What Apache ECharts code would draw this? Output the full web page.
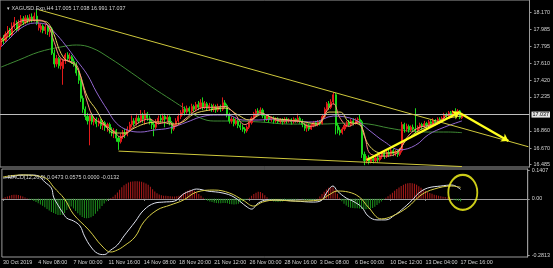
<!DOCTYPE html>
<html><head><meta charset="utf-8">
<script src="https://cdn.jsdelivr.net/npm/echarts@6/dist/echarts.min.js"></script>
<style>html,body{margin:0;padding:0;background:#000;}#c{width:553px;height:268px;}</style>
</head><body><div id="c"></div>
<script>
// ---- data ----
const tickLabels = ['30 Oct 2019','4 Nov 08:00','7 Nov 00:00','11 Nov 16:00','14 Nov 08:00','18 Nov 20:00','21 Nov 12:00','26 Nov 00:00','28 Nov 16:00','3 Dec 08:00','6 Dec 00:00','10 Dec 12:00','13 Dec 04:00','17 Dec 16:00'];
const priceTicks = [18.170, 17.985, 17.795, 17.610, 17.420, 17.235, 16.860, 16.670, 16.485];
const macdTicks = [0.1407, 0, -0.2813];
const lastPrice = 17.037;
const headerText = 'XAGUSD.Exp,H4 17.005 17.038 16.991 17.037';
const macdText = 'MACD(12,26,9) 0.0473 0.0575 0.0000 -0.0132';

// [open, close, low, high]
const candles = [
[17.80,17.88,17.76,17.90],[17.88,17.86,17.82,17.92],[17.86,17.93,17.84,17.96],[17.93,17.97,17.90,18.02],[17.97,17.92,17.89,18.00],
[17.92,18.02,17.90,18.06],[18.02,18.06,17.99,18.12],[18.06,17.98,17.95,18.08],[17.98,18.05,17.96,18.09],[18.05,18.10,18.02,18.14],
[18.10,18.06,18.03,18.13],[18.06,18.11,18.04,18.14],[18.11,18.08,18.05,18.14],[18.08,18.12,18.06,18.15],[18.12,18.09,18.06,18.16],
[18.09,18.13,18.07,18.17],[18.13,18.05,18.03,18.20],[18.00,18.04,17.97,18.07],[17.98,18.02,17.95,18.05],[18.02,17.97,17.94,18.04],
[17.97,18.01,17.93,18.04],[18.01,17.96,17.92,18.03],[17.96,17.99,17.90,18.02],[17.99,17.72,17.70,18.01],[17.72,17.60,17.56,17.76],
[17.60,17.66,17.57,17.70],[17.66,17.58,17.55,17.68],[17.58,17.62,17.54,17.66],[17.55,17.64,17.37,17.66],[17.64,17.70,17.60,17.72],
[17.70,17.66,17.63,17.73],[17.66,17.68,17.62,17.72],[17.68,17.63,17.60,17.70],[17.63,17.60,17.57,17.66],[17.60,17.50,17.47,17.62],
[17.50,17.42,17.38,17.52],[17.42,17.22,17.18,17.44],[17.22,17.10,17.06,17.25],[17.10,17.02,16.98,17.13],[17.02,16.97,16.93,17.06],
[16.97,17.03,16.70,17.05],[17.03,16.96,16.93,17.06],[16.96,16.99,16.92,17.02],[16.99,16.94,16.90,17.01],[16.94,16.97,16.91,17.00],
[16.97,16.92,16.88,16.99],[16.92,16.95,16.87,16.98],[16.95,16.90,16.86,16.97],[16.90,16.93,16.85,16.95],[16.93,16.87,16.83,16.95],
[16.87,16.84,16.80,16.90],[16.84,16.86,16.78,16.89],[16.86,16.78,16.74,16.88],[16.78,16.74,16.65,16.80],[16.74,16.80,16.72,16.83],
[16.80,16.84,16.77,16.87],[16.84,16.82,16.78,16.88],[16.82,16.88,16.80,16.91],[16.88,16.93,16.85,16.96],[16.93,16.97,16.90,17.03],
[16.97,16.94,16.91,17.00],[16.94,17.00,16.92,17.05],[17.00,16.97,16.94,17.03],[16.97,17.03,16.95,17.09],[17.03,16.99,16.95,17.06],
[16.99,17.05,16.93,17.09],[17.05,17.00,16.97,17.07],[17.00,16.96,16.93,17.03],[16.96,16.93,16.88,16.99],[16.93,16.90,16.80,16.96],
[16.90,16.96,16.88,16.99],[16.96,17.00,16.93,17.03],[17.00,16.98,16.95,17.04],[16.98,17.02,16.96,17.05],[17.02,16.99,16.90,17.05],
[16.99,17.01,16.96,17.04],[17.01,16.95,16.92,17.03],[16.95,16.88,16.83,16.97],[16.88,16.93,16.86,16.95],[16.93,16.97,16.91,17.00],
[16.97,17.02,16.95,17.05],[17.02,17.06,16.99,17.09],[17.06,17.10,17.03,17.17],[17.10,17.07,17.03,17.13],[17.07,17.11,17.05,17.14],
[17.11,17.08,17.04,17.13],[17.08,17.13,17.06,17.16],[17.13,17.10,17.07,17.15],[17.10,17.15,17.08,17.18],[17.15,17.12,17.09,17.19],
[17.12,17.17,17.10,17.21],[17.17,17.12,17.09,17.23],[17.12,17.16,17.10,17.19],[17.16,17.11,17.08,17.18],[17.11,17.14,17.08,17.17],
[17.14,17.10,17.07,17.16],[17.10,17.13,17.07,17.16],[17.13,17.09,17.06,17.15],[17.09,17.13,17.07,17.16],[17.13,17.10,17.07,17.15],
[17.10,17.17,17.08,17.23],[17.17,17.14,17.11,17.20],[17.14,17.04,17.01,17.16],[17.04,16.97,16.94,17.06],[16.97,16.99,16.94,17.02],
[16.99,16.94,16.91,17.01],[16.94,16.97,16.92,17.00],[16.97,16.92,16.89,16.99],[16.92,16.90,16.87,16.95],[16.90,16.88,16.85,16.93],
[16.88,16.86,16.83,16.90],[16.86,16.90,16.84,16.92],[16.90,16.95,16.88,16.97],[16.95,17.00,16.93,17.02],[17.00,17.05,16.98,17.07],
[17.05,17.08,17.02,17.10],[17.08,17.06,17.03,17.11],[17.06,17.09,17.04,17.12],[17.09,17.03,17.00,17.11],[17.03,16.99,16.96,17.05],
[16.99,17.02,16.97,17.04],[17.02,16.98,16.95,17.04],[16.98,17.00,16.96,17.02],[17.00,16.97,16.94,17.02],[16.97,16.99,16.95,17.01],
[16.99,16.96,16.94,17.01],[16.96,16.98,16.94,17.00],[16.98,16.96,16.93,17.00],[16.96,16.99,16.94,17.01],[16.99,16.97,16.94,17.01],
[16.97,16.98,16.95,17.00],[16.98,16.96,16.93,17.00],[16.96,16.99,16.94,17.01],[16.99,16.97,16.95,17.00],[16.97,17.00,16.95,17.05],
[17.00,16.97,16.94,17.02],[16.97,16.93,16.90,16.99],[16.93,16.89,16.86,16.95],[16.89,16.92,16.85,16.94],[16.92,16.88,16.86,16.94],
[16.88,16.92,16.87,16.94],[16.92,16.95,16.90,16.97],[16.95,16.93,16.91,16.97],[16.93,16.96,16.91,16.98],[16.96,16.94,16.92,16.98],
[16.94,17.02,16.93,17.04],[17.02,17.10,17.00,17.12],[17.10,17.16,17.07,17.18],[17.16,17.12,17.09,17.19],[17.12,17.18,17.10,17.21],
[17.18,17.26,17.15,17.29],[17.26,16.92,16.82,17.28],[16.92,16.87,16.83,16.95],[16.87,16.84,16.81,16.90],[16.84,16.88,16.82,16.90],
[16.88,16.92,16.86,16.94],[16.92,16.95,16.90,16.97],[16.95,16.93,16.91,16.98],[16.93,16.97,16.91,16.99],[16.97,16.95,16.92,17.00],
[16.95,16.98,16.93,17.00],[16.98,16.99,16.93,17.01],[16.99,16.96,16.93,17.04],[16.96,16.60,16.56,16.98],[16.60,16.53,16.48,16.63],
[16.53,16.56,16.50,16.58],[16.56,16.52,16.49,16.59],[16.52,16.55,16.50,16.57],[16.55,16.53,16.50,16.58],[16.53,16.56,16.51,16.58],
[16.56,16.54,16.51,16.58],[16.54,16.58,16.52,16.60],[16.58,16.61,16.55,16.63],[16.61,16.58,16.55,16.64],[16.58,16.62,16.56,16.64],
[16.62,16.60,16.57,16.65],[16.60,16.64,16.58,16.66],[16.64,16.61,16.58,16.66],[16.61,16.63,16.58,16.65],[16.63,16.60,16.57,16.65],
[16.60,16.64,16.58,16.67],[16.64,16.93,16.62,16.96],[16.93,16.88,16.84,16.95],[16.88,16.91,16.85,16.94],[16.91,16.87,16.84,16.93],
[16.87,16.90,16.85,16.92],[16.90,16.88,16.85,16.93],[16.88,16.86,16.83,17.11],[16.86,16.90,16.84,16.92],[16.90,16.93,16.88,16.95],
[16.93,16.91,16.88,16.95],[16.91,16.94,16.89,16.97],[16.94,16.92,16.89,16.96],[16.92,16.96,16.90,16.98],[16.96,16.94,16.91,16.98],
[16.94,16.97,16.92,17.00],[16.97,16.95,16.92,16.99],[16.95,16.99,16.93,17.01],[16.99,16.97,16.94,17.01],[16.97,17.00,16.95,17.02],
[17.00,17.04,16.98,17.06],[17.04,17.02,16.99,17.06],[17.02,17.06,17.00,17.08],[17.06,17.04,17.01,17.08],[17.04,17.07,17.02,17.09],
[17.07,17.05,17.02,17.11],[17.05,17.08,17.03,17.10],[17.08,17.005,16.99,17.09],[17.005,17.037,16.991,17.038]
];

// moving averages: [bar index, price]
const maFast = [[0,17.865],[4,17.976],[8,18.064],[13,18.087],[17,18.087],[21,18.03],[24,17.84],[27,17.66],[31,17.63],[34,17.59],[36,17.45],[39,17.17],[42,17.00],[47,16.92],[51,16.85],[54,16.79],[58,16.86],[62,16.95],[67,16.99],[71,16.94],[76,16.96],[78,16.91],[83,16.99],[87,17.07],[92,17.12],[96,17.12],[101,17.13],[105,17.06],[110,16.93],[114,17.00],[117,17.06],[121,17.02],[126,16.97],[130,16.97],[134,16.97],[139,16.91],[143,16.93],[147,17.08],[150,17.16],[153,17.00],[157,16.91],[161,16.96],[164,16.80],[167,16.60],[173,16.58],[179,16.62],[183,16.78],[188,16.89],[193,16.92],[198,16.97],[203,17.04],[208,17.04]];
const maMid = [[0,17.843],[4,17.92],[8,18.01],[14,18.08],[20,18.07],[23,17.976],[28,17.677],[34,17.566],[39,17.234],[43,17.09],[47,16.92],[51,16.836],[56,16.836],[60,16.89],[66,16.946],[72,16.958],[77,16.935],[82,16.958],[87,17.046],[94,17.09],[101,17.112],[107,17.035],[112,16.98],[118,17.046],[123,17.00],[130,16.98],[137,16.958],[143,16.935],[148,17.068],[153,17.068],[157,16.958],[162,16.925],[166,16.70],[172,16.614],[178,16.625],[183,16.758],[189,16.869],[196,16.935],[202,17.00],[208,17.024]];
const maSlow = [[0,17.788],[4,17.887],[9,17.998],[15,18.053],[20,18.042],[24,17.954],[29,17.81],[34,17.644],[39,17.478],[43,17.29],[48,17.09],[52,16.946],[57,16.869],[63,16.847],[69,16.869],[76,16.891],[84,16.958],[90,17.013],[96,17.035],[102,17.035],[109,16.98],[116,16.98],[123,16.99],[132,16.97],[141,16.958],[150,17.024],[160,16.98],[166,16.869],[173,16.74],[180,16.65],[187,16.70],[193,16.82],[200,16.90],[208,16.97]];
const maLong = [[0,17.566],[8,17.644],[17,17.732],[27,17.788],[34,17.81],[41,17.777],[49,17.666],[59,17.50],[68,17.345],[77,17.201],[84,17.09],[90,17.002],[96,16.969],[103,16.969],[117,16.958],[130,16.935],[144,16.935],[157,16.946],[166,16.935],[175,16.891],[184,16.858],[193,16.847],[202,16.847],[208,16.84]];

// trendlines and arrows: [bar index, price]
const upperTrend = [[17,18.20],[238,16.684]];
const lowerTrend = [[53,16.636],[208,16.465]];
const arrowUp = [[165,16.537],[207,17.068]];
const arrowDown = [[207,17.057],[229,16.747]];

// MACD
const macdLine = [[0,0.104],[4,0.109],[8,0.119],[13,0.119],[16,0.114],[19,0.084],[22,0.054],[23,0.009],[25,-0.031],[27,-0.066],[29,-0.096],[32,-0.110],[35,-0.135],[37,-0.185],[40,-0.240],[43,-0.272],[46,-0.278],[49,-0.255],[52,-0.230],[55,-0.185],[60,-0.115],[64,-0.056],[69,-0.021],[73,-0.016],[78,-0.011],[82,0.024],[85,0.039],[88,0.049],[93,0.039],[100,0.029],[105,0.009],[111,-0.041],[113,-0.051],[116,-0.021],[120,-0.006],[124,-0.006],[133,-0.011],[141,-0.016],[145,-0.006],[147,0.029],[150,0.064],[152,0.039],[156,0.004],[159,-0.011],[163,-0.041],[166,-0.086],[170,-0.105],[174,-0.105],[178,-0.081],[181,-0.056],[186,-0.006],[189,0.029],[193,0.054],[199,0.064],[204,0.069],[208,0.0473]];
const signalLine = [[0,0.109],[8,0.119],[16,0.114],[20,0.099],[23,0.059],[28,-0.001],[32,-0.076],[39,-0.155],[45,-0.235],[49,-0.265],[52,-0.255],[55,-0.235],[60,-0.190],[64,-0.115],[70,-0.056],[76,-0.031],[82,-0.006],[88,0.034],[96,0.044],[103,0.029],[109,-0.006],[114,-0.036],[118,-0.016],[124,-0.006],[133,-0.011],[144,-0.006],[148,0.019],[152,0.039],[157,0.034],[162,0.009],[166,-0.041],[172,-0.100],[177,-0.086],[184,-0.041],[190,0.019],[196,0.049],[204,0.064],[208,0.0575]];
const histogram = [
0.004,0.008,
0.012,0.016,0.019,0.021,0.021,0.019,0.016,0.012,
0.007,0.003,-0.002,
-0.006,-0.011,-0.016,-0.022,-0.028,-0.034,
-0.042,-0.050,-0.058,-0.065,-0.071,-0.076,-0.080,-0.081,-0.079,-0.070,
-0.055,-0.042,-0.038,
-0.048,-0.060,-0.072,-0.082,-0.090,-0.095,-0.097,-0.096,-0.092,-0.085,
-0.074,-0.062,-0.049,-0.036,-0.023,-0.012,-0.002,
0.004,0.010,0.020,0.032,0.045,0.058,0.068,0.076,0.082,0.085,0.087,0.088,0.088,0.087,0.085,0.082,0.077,0.070,0.060,0.048,0.037,0.028,0.022,0.018,0.016,0.015,0.014,
0.013,0.012,0.012,0.013,0.016,
0.020,0.028,0.035,0.041,0.045,0.044,0.040,0.033,0.024,0.015,0.006,
-0.004,-0.009,-0.013,-0.016,-0.019,-0.021,-0.022,-0.022,-0.021,-0.020,-0.022,-0.025,-0.027,-0.028,-0.027,-0.024,-0.019,-0.013,-0.007,-0.002,
0.006,0.015,0.024,0.031,0.035,0.034,0.028,0.018,0.008,
-0.004,-0.009,-0.013,-0.015,-0.016,-0.015,-0.013,-0.010,-0.007,-0.005,
-0.004,-0.003,-0.004,-0.002,0.001,-0.002,-0.005,-0.007,-0.008,-0.007,-0.005,-0.003,0.002,
0.012,0.024,0.036,0.047,0.055,0.059,0.058,0.045,0.025,
0.005,-0.012,-0.024,-0.033,-0.040,-0.044,-0.046,-0.047,-0.047,-0.048,-0.050,-0.052,-0.052,-0.051,-0.049,-0.045,-0.039,-0.031,-0.022,-0.013,-0.004,
0.005,0.013,0.022,0.031,0.040,0.049,0.057,0.064,0.070,0.075,0.078,0.079,0.078,0.075,0.070,0.063,0.055,0.047,0.040,0.034,0.029,0.025,0.021,0.018,0.015,0.013,0.011,0.009,0.007,0.005,0.002,
-0.004,-0.008,-0.011,-0.013
];
const circleMark = [[209,0.032]];

// ---- layout / build ----
const BARS_PER_LABEL = 16;
const SLOTS = 239; // bars plus chart shift space
const cats = [];
for (let i = 0; i < SLOTS; i++) {
  const k = i / BARS_PER_LABEL;
  cats.push(Number.isInteger(k) && k < tickLabels.length ? tickLabels[k] : '');
}
const labelAt = (i) => i % BARS_PER_LABEL === 0 && i / BARS_PER_LABEL < tickLabels.length;

const FONT = 'Liberation Sans';
const FS = 5.4;
const TXT = '#d4d4d4';
const FRAME = '#9a9a9a';
const BULL = '#e21a1a';
const BEAR = '#1ad81a';

const seg = (pair) => [{coord: pair[0]}, {coord: pair[1]}];

const chart = echarts.init(document.getElementById('c'), null, {renderer: 'canvas'});
chart.setOption({
  animation: false,
  backgroundColor: '#000',
  title: [
    {text: '\u25BE ' + headerText, left: 2, top: 1, textStyle: {color: TXT, fontSize: FS, fontWeight: 'normal', fontFamily: FONT}},
    {text: macdText, left: 3, top: 170, textStyle: {color: TXT, fontSize: FS, fontWeight: 'normal', fontFamily: FONT}}
  ],
  grid: [
    {left: 0, top: 0, width: 530, height: 167, show: true, borderColor: FRAME, borderWidth: 1, backgroundColor: 'transparent'},
    {left: 0, top: 169, width: 530, height: 88, show: true, borderColor: FRAME, borderWidth: 1, backgroundColor: 'transparent'}
  ],
  xAxis: [
    {type: 'category', gridIndex: 0, data: cats, boundaryGap: true,
     axisLine: {show: false}, axisTick: {show: false}, axisLabel: {show: false}, splitLine: {show: false}},
    {type: 'category', gridIndex: 1, data: cats, boundaryGap: true,
     axisLine: {show: true, lineStyle: {color: FRAME}},
     axisTick: {show: true, interval: labelAt, alignWithLabel: true, length: 2, lineStyle: {color: FRAME}},
     axisLabel: {show: true, interval: labelAt, align: 'left', margin: 3, color: TXT, fontSize: FS, fontFamily: FONT},
     splitLine: {show: false}}
  ],
  yAxis: [
    {type: 'value', gridIndex: 0, position: 'right', min: 16.46, max: 18.308, scale: true,
     axisLine: {show: true, lineStyle: {color: FRAME}},
     axisTick: {show: true, customValues: priceTicks, length: 2, lineStyle: {color: FRAME}},
     axisLabel: {show: true, customValues: priceTicks, formatter: (v) => v.toFixed(3), margin: 4, color: TXT, fontSize: FS, fontFamily: FONT},
     splitLine: {show: false}},
    {type: 'value', gridIndex: 1, position: 'right', min: -0.290, max: 0.149,
     axisLine: {show: true, lineStyle: {color: FRAME}},
     axisTick: {show: true, customValues: macdTicks, length: 2, lineStyle: {color: FRAME}},
     axisLabel: {show: true, customValues: macdTicks, formatter: (v) => (v === 0 ? '0.00' : v.toFixed(4)), margin: 4, color: TXT, fontSize: FS, fontFamily: FONT},
     splitLine: {show: false}}
  ],
  series: [
    {type: 'line', xAxisIndex: 0, yAxisIndex: 0, data: maLong, symbol: 'none', smooth: 0.4,
     lineStyle: {color: '#3f8a34', width: 1}, z: 2},
    {type: 'candlestick', xAxisIndex: 0, yAxisIndex: 0, data: candles, barWidth: '72%', z: 3,
     itemStyle: {color: BULL, color0: BEAR, borderColor: BULL, borderColor0: BEAR, borderWidth: 1},
     markLine: {silent: true, symbol: 'none', animation: false,
       data: [
         {yAxis: lastPrice, lineStyle: {color: '#bdbdbd', width: 1, type: 'solid'},
          label: {show: true, position: 'end', formatter: () => lastPrice.toFixed(3), distance: 2,
                  backgroundColor: '#e4e4e4', color: '#000', padding: [1, 1, 0, 1], fontSize: FS, fontFamily: FONT}},
         seg(upperTrend).map((p) => Object.assign(p, {lineStyle: {color: '#cfc83c', width: 1, type: 'solid'}, label: {show: false}})),
         seg(lowerTrend).map((p) => Object.assign(p, {lineStyle: {color: '#cfc83c', width: 1, type: 'solid'}, label: {show: false}}))
       ]}},
    {type: 'line', xAxisIndex: 0, yAxisIndex: 0, data: maSlow, symbol: 'none', smooth: 0.4,
     lineStyle: {color: '#9266cf', width: 1}, z: 4},
    {type: 'line', xAxisIndex: 0, yAxisIndex: 0, data: maMid, symbol: 'none', smooth: 0.4,
     lineStyle: {color: '#e2d45a', width: 1}, z: 4},
    {type: 'line', xAxisIndex: 0, yAxisIndex: 0, data: maFast, symbol: 'none', smooth: 0.4,
     lineStyle: {color: '#ff8a7a', width: 1}, z: 4,
     markLine: {silent: true, symbol: ['none', 'arrow'], symbolSize: 7, animation: false,
       lineStyle: {color: '#ffff1e', width: 2.4, type: 'solid'}, label: {show: false},
       data: [seg(arrowUp), seg(arrowDown)]}},
    {type: 'bar', xAxisIndex: 1, yAxisIndex: 1, data: histogram, barWidth: 1, z: 2,
     itemStyle: {color: (p) => (p.value >= 0 ? '#b01c1c' : '#1c921c')}},
    {type: 'line', xAxisIndex: 1, yAxisIndex: 1, data: macdLine, symbol: 'none', smooth: 0.4,
     lineStyle: {color: '#dfe3ef', width: 1}, z: 3},
    {type: 'line', xAxisIndex: 1, yAxisIndex: 1, data: signalLine, symbol: 'none', smooth: 0.4,
     lineStyle: {color: '#d8cf48', width: 1}, z: 3},
    {type: 'scatter', xAxisIndex: 1, yAxisIndex: 1, data: circleMark, z: 5,
     symbol: 'path://M0,-1A1,1 0 1,1 0,1A1,1 0 1,1 0,-1Z', symbolSize: [29, 35], symbolKeepAspect: false,
     itemStyle: {color: 'rgba(0,0,0,0)', borderColor: '#ffff1e', borderWidth: 2}}
  ]
});
</script>
</body></html>
